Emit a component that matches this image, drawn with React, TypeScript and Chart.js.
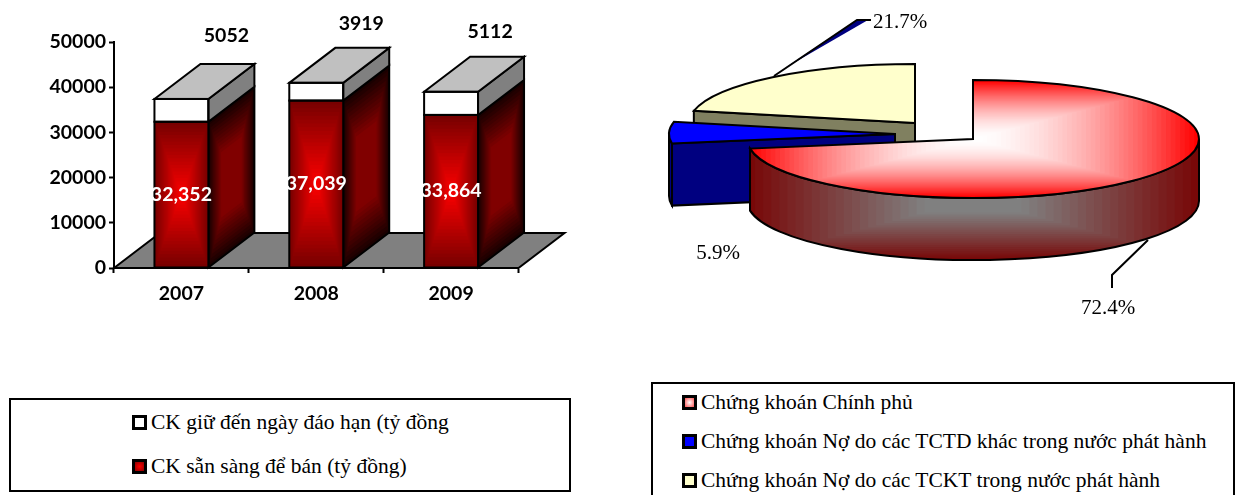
import React, { useEffect, useRef } from "react";
import { Chart, registerables } from "chart.js";

Chart.register(...registerables);

// Securities portfolio, 2007-2009 (billion VND)
const years = ["2007", "2008", "2009"];
const availableForSale = [32352, 37039, 33864];
const heldToMaturity = [5052, 3919, 5112];
const yTicksMax = 50000;
const yTicksStep = 10000;

const barLegend = ["CK giữ đến ngày đáo hạn (tỷ đồng", "CK sẵn sàng để bán (tỷ đồng)"];

// Portfolio structure by issuer (percent)
const issuers = [
  "Chứng khoán Chính phủ",
  "Chứng khoán Nợ do các TCTD khác trong nước phát hành",
  "Chứng khoán Nợ do các TCKT trong nước phát hành",
];
const issuerShares = [72.4, 5.9, 21.7];

const SANS = "Lato, 'Open Sans', sans-serif";
const SERIF = "'Liberation Serif', 'Times New Roman', serif";
const INK = "#000000";

// Oblique projection of the columns
const DEPTH_X = 46;
const DEPTH_Y = -35;
// Placement of the labels that float above each column
const capLabelShift = [
  { x: -1, y: -63 },
  { x: -1, y: -59 },
  { x: -7, y: -60 },
];

// Pie projection, in canvas pixels
const PIE_RX = 226;
const PIE_RY = 59;
const PIE_DEPTH = 62;
const sliceStyles = [
  { cx: 333, cy: 139, top: "#ffffff", rim: "#808080", edge: "#ff0000", rimEdge: "#780808", cut: null, labelX: 468, labelY: 308 },
  { cx: 255, cy: 134, top: "#0000ff", rim: "#000080", edge: null, rimEdge: null, cut: "#000080", labelX: 78, labelY: 253 },
  { cx: 275, cy: 123, top: "#ffffcc", rim: "#808060", edge: null, rimEdge: null, cut: "#808060", labelX: 260, labelY: 22 },
];

function hexToRgb(hex: string) {
  const n = parseInt(hex.slice(1), 16);
  return [(n >> 16) & 255, (n >> 8) & 255, n & 255];
}

// Fills a rectangle with banded rings running from the edge colour to the centre colour.
// The blend follows 1 - (1 - f)^ease, so an ease above 1 lightens quickly near the edge.
function paintRings(
  ctx: CanvasRenderingContext2D,
  x: number,
  y: number,
  w: number,
  h: number,
  edge: string,
  centre: string,
  steps: number,
  reach = 1,
  ease = 1
) {
  const a = hexToRgb(edge);
  const b = hexToRgb(centre);
  for (let i = 0; i < steps; i++) {
    const f = i / steps;
    const m = Math.min(1, (1 - Math.pow(1 - f, ease)) * reach);
    const c = a.map((v, k) => Math.round(v + (b[k] - v) * m));
    ctx.fillStyle = `rgb(${c[0]},${c[1]},${c[2]})`;
    ctx.fillRect(x + (w / 2) * f, y + (h / 2) * f, w * (1 - f), h * (1 - f));
  }
}

const columnsPlugin = {
  id: "columns3d",
  beforeDatasetsDraw(chart: any) {
    const { ctx, chartArea } = chart;
    const y = chartArea.bottom;
    ctx.save();
    ctx.beginPath();
    ctx.moveTo(chartArea.left, y);
    ctx.lineTo(chartArea.left + DEPTH_X, y + DEPTH_Y);
    ctx.lineTo(chartArea.right + DEPTH_X, y + DEPTH_Y);
    ctx.lineTo(chartArea.right, y);
    ctx.closePath();
    ctx.fillStyle = "#808080";
    ctx.fill();
    ctx.lineWidth = 2;
    ctx.strokeStyle = INK;
    ctx.stroke();
    ctx.restore();
  },
  afterDatasetsDraw(chart: any) {
    const { ctx } = chart;
    const lower = chart.getDatasetMeta(0).data;
    const upper = chart.getDatasetMeta(1).data;
    ctx.save();
    ctx.lineWidth = 2;
    ctx.lineJoin = "miter";
    ctx.strokeStyle = INK;
    lower.forEach((bar: any, i: number) => {
      const cap = upper[i];
      const left = bar.x - bar.width / 2;
      const right = bar.x + bar.width / 2;
      const base = bar.base;
      const mid = bar.y;
      const top = cap.y;

      // Side of the lower block
      ctx.save();
      ctx.beginPath();
      ctx.moveTo(right, mid);
      ctx.lineTo(right + DEPTH_X, mid + DEPTH_Y);
      ctx.lineTo(right + DEPTH_X, base + DEPTH_Y);
      ctx.lineTo(right, base);
      ctx.closePath();
      ctx.clip();
      ctx.transform(DEPTH_X, DEPTH_Y, 0, base - mid, right, mid);
      paintRings(ctx, 0, 0, 1, 1, "#1a0000", "#800000", 20, 1.8);
      ctx.restore();
      ctx.beginPath();
      ctx.moveTo(right, mid);
      ctx.lineTo(right + DEPTH_X, mid + DEPTH_Y);
      ctx.lineTo(right + DEPTH_X, base + DEPTH_Y);
      ctx.lineTo(right, base);
      ctx.closePath();
      ctx.stroke();

      // Side of the upper block
      ctx.beginPath();
      ctx.moveTo(right, top);
      ctx.lineTo(right + DEPTH_X, top + DEPTH_Y);
      ctx.lineTo(right + DEPTH_X, mid + DEPTH_Y);
      ctx.lineTo(right, mid);
      ctx.closePath();
      ctx.fillStyle = "#808080";
      ctx.fill();
      ctx.stroke();

      // Top of the column
      ctx.beginPath();
      ctx.moveTo(left, top);
      ctx.lineTo(left + DEPTH_X, top + DEPTH_Y);
      ctx.lineTo(right + DEPTH_X, top + DEPTH_Y);
      ctx.lineTo(right, top);
      ctx.closePath();
      ctx.fillStyle = "#c0c0c0";
      ctx.fill();
      ctx.stroke();

      // Glow on the front of the lower block
      paintRings(ctx, left, mid, right - left, base - mid, "#780000", "#ff0000", 22);
      ctx.strokeRect(left, mid, right - left, base - mid);
      ctx.strokeRect(left, top, right - left, mid - top);

      // Value labels
      ctx.font = `bold 19.5px ${SANS}`;
      ctx.textAlign = "center";
      ctx.textBaseline = "middle";
      ctx.fillStyle = "#ffffff";
      ctx.fillText(availableForSale[i].toLocaleString("en-US"), bar.x, (mid + base) / 2);
      ctx.fillStyle = INK;
      ctx.fillText(String(heldToMaturity[i]), bar.x + DEPTH_X + capLabelShift[i].x, top + capLabelShift[i].y);
    });
    ctx.restore();
  },
};

function slicePath(ctx: CanvasRenderingContext2D, s: any, t0: number, t1: number) {
  ctx.beginPath();
  ctx.moveTo(s.cx, s.cy);
  ctx.ellipse(s.cx, s.cy, PIE_RX, PIE_RY, 0, t0, t1);
  ctx.closePath();
}

function rimPath(ctx: CanvasRenderingContext2D, s: any, t0: number, t1: number) {
  ctx.beginPath();
  ctx.ellipse(s.cx, s.cy, PIE_RX, PIE_RY, 0, t0, t1);
  ctx.ellipse(s.cx, s.cy + PIE_DEPTH, PIE_RX, PIE_RY, 0, t1, t0, true);
  ctx.closePath();
}

const piePlugin = {
  id: "pie3d",
  afterDatasetsDraw(chart: any) {
    const { ctx } = chart;
    const arcs = chart.getDatasetMeta(0).data;
    ctx.save();
    ctx.lineWidth = 2;
    ctx.lineJoin = "miter";
    ctx.strokeStyle = INK;

    // Far slices first so that the large slice overlaps them
    [2, 1, 0].forEach((i) => {
      const s = sliceStyles[i];
      const t0 = arcs[i].startAngle;
      const t1 = arcs[i].endAngle;

      if (s.cut) {
        const ox = s.cx + PIE_RX * Math.cos(t0);
        const oy = s.cy + PIE_RY * Math.sin(t0);
        ctx.beginPath();
        ctx.moveTo(s.cx, s.cy);
        ctx.lineTo(ox, oy);
        ctx.lineTo(ox, oy + PIE_DEPTH);
        ctx.lineTo(s.cx, s.cy + PIE_DEPTH);
        ctx.closePath();
        ctx.fillStyle = s.cut;
        ctx.fill();
        ctx.stroke();
      }

      const r0 = Math.max(t0, 0);
      const r1 = Math.min(t1, Math.PI);
      if (r1 > r0) {
        rimPath(ctx, s, r0, r1);
        if (s.rimEdge) {
          ctx.save();
          ctx.clip();
          paintRings(ctx, s.cx - PIE_RX, s.cy, PIE_RX * 2, PIE_RY + PIE_DEPTH, s.rimEdge, s.rim, 28, 1.3);
          ctx.restore();
          rimPath(ctx, s, r0, r1);
        } else {
          ctx.fillStyle = s.rim;
          ctx.fill();
        }
        ctx.stroke();
      }

      slicePath(ctx, s, t0, t1);
      if (s.edge) {
        ctx.save();
        ctx.clip();
        paintRings(ctx, s.cx - PIE_RX, s.cy - PIE_RY, PIE_RX * 2, PIE_RY * 2, s.edge, s.top, 48, 1, 1.7);
        ctx.restore();
        slicePath(ctx, s, t0, t1);
      } else {
        ctx.fillStyle = s.top;
        ctx.fill();
      }
      ctx.stroke();
    });

    // Leader lines
    ctx.beginPath();
    ctx.moveTo(145, 68);
    ctx.lineTo(228, 20);
    ctx.lineTo(217, 20);
    ctx.closePath();
    ctx.fillStyle = "#000080";
    ctx.fill();
    ctx.beginPath();
    ctx.moveTo(134, 76);
    ctx.lineTo(217, 20);
    ctx.lineTo(231, 20);
    ctx.stroke();
    ctx.beginPath();
    ctx.moveTo(508, 240);
    ctx.lineTo(472, 275);
    ctx.lineTo(472, 288);
    ctx.stroke();

    // Percentage labels
    ctx.font = `21px ${SERIF}`;
    ctx.textAlign = "center";
    ctx.textBaseline = "middle";
    ctx.fillStyle = INK;
    issuerShares.forEach((v, i) => {
      ctx.fillText(`${v.toFixed(1)}%`, sliceStyles[i].labelX, sliceStyles[i].labelY);
    });
    ctx.restore();
  },
};

function Swatch({ fill }: { fill: string }) {
  return (
    <span
      style={{
        display: "inline-block",
        boxSizing: "border-box",
        width: 15,
        height: 15,
        border: "3px solid #000",
        background: fill,
        flex: "none",
      }}
    />
  );
}

function LegendRow({ left, top, fill, text }: { left: number; top: number; fill: string; text: string }) {
  return (
    <div
      style={{
        position: "absolute",
        left,
        top,
        display: "flex",
        alignItems: "center",
        whiteSpace: "nowrap",
        font: `21.5px ${SERIF}`,
        lineHeight: "24px",
        color: "#000",
      }}
    >
      <Swatch fill={fill} />
      <span style={{ marginLeft: 4 }}>{text}</span>
    </div>
  );
}

export default function App() {
  const barRef = useRef<HTMLCanvasElement>(null);
  const pieRef = useRef<HTMLCanvasElement>(null);

  useEffect(() => {
    const barChart = new Chart(barRef.current as HTMLCanvasElement, {
      type: "bar",
      data: {
        labels: years,
        datasets: [
          { label: barLegend[1], data: availableForSale, backgroundColor: "#800000", borderWidth: 0, barPercentage: 1, categoryPercentage: 0.4 },
          { label: barLegend[0], data: heldToMaturity, backgroundColor: "#ffffff", borderWidth: 0, barPercentage: 1, categoryPercentage: 0.4 },
        ],
      },
      options: {
        responsive: false,
        animation: false,
        events: [],
        layout: { padding: { top: 42, right: 81.5, left: 0, bottom: 0 } },
        plugins: { legend: { display: false }, tooltip: { enabled: false } },
        scales: {
          x: {
            stacked: true,
            afterFit(scale: any) {
              scale.height = 72;
              scale.paddingLeft = 0;
              scale.paddingRight = 0;
            },
            border: { color: INK, width: 2 },
            grid: { drawOnChartArea: false, color: INK, tickColor: INK, tickLength: 5, tickWidth: 2 },
            ticks: { color: INK, font: { family: SANS, size: 19.5, weight: "bold" }, padding: 9, maxRotation: 0 },
          },
          y: {
            stacked: true,
            min: 0,
            max: yTicksMax,
            afterFit(scale: any) {
              scale.width = 114;
              scale.paddingTop = 0;
              scale.paddingBottom = 0;
            },
            border: { color: INK, width: 2 },
            grid: { drawOnChartArea: false, color: INK, tickColor: INK, tickLength: 5, tickWidth: 2 },
            ticks: {
              color: INK,
              stepSize: yTicksStep,
              font: { family: SANS, size: 19.5, weight: "bold" },
              padding: 3,
              callback: (v: number) => String(v),
            },
          },
        },
      },
      plugins: [columnsPlugin],
    } as any);

    const pieChart = new Chart(pieRef.current as HTMLCanvasElement, {
      type: "pie",
      data: {
        labels: issuers,
        datasets: [{ data: issuerShares, backgroundColor: "rgba(0,0,0,0)", borderWidth: 0 }],
      },
      options: {
        responsive: false,
        animation: false,
        events: [],
        plugins: { legend: { display: false }, tooltip: { enabled: false } },
      },
      plugins: [piePlugin],
    } as any);

    return () => {
      barChart.destroy();
      pieChart.destroy();
    };
  }, []);

  const boxStyle = (left: number, top: number, width: number, height: number): React.CSSProperties => ({
    position: "absolute",
    left,
    top,
    width,
    height,
    boxSizing: "border-box",
    border: "2px solid #000",
    background: "#fff",
  });

  return (
    <div style={{ position: "absolute", left: 0, top: 0, width: 1235, height: 495, overflow: "hidden", background: "#fff" }}>
      <canvas ref={barRef} width={600} height={340} style={{ position: "absolute", left: 0, top: 0 }} />
      <canvas ref={pieRef} width={595} height={340} style={{ position: "absolute", left: 640, top: 0 }} />

      <div style={boxStyle(9, 398, 562, 94)} />
      <LegendRow left={132} top={410} fill="#ffffff" text={barLegend[0]} />
      <LegendRow left={132} top={454} fill="radial-gradient(circle, #ff0000, #8a0000)" text={barLegend[1]} />

      <div style={boxStyle(651, 382, 584, 120)} />
      <LegendRow left={682} top={390} fill="radial-gradient(circle, #ffffff, #ff5050)" text={issuers[0]} />
      <LegendRow left={682} top={429} fill="#0000ff" text={issuers[1]} />
      <LegendRow left={682} top={468} fill="#ffffcc" text={issuers[2]} />
    </div>
  );
}
